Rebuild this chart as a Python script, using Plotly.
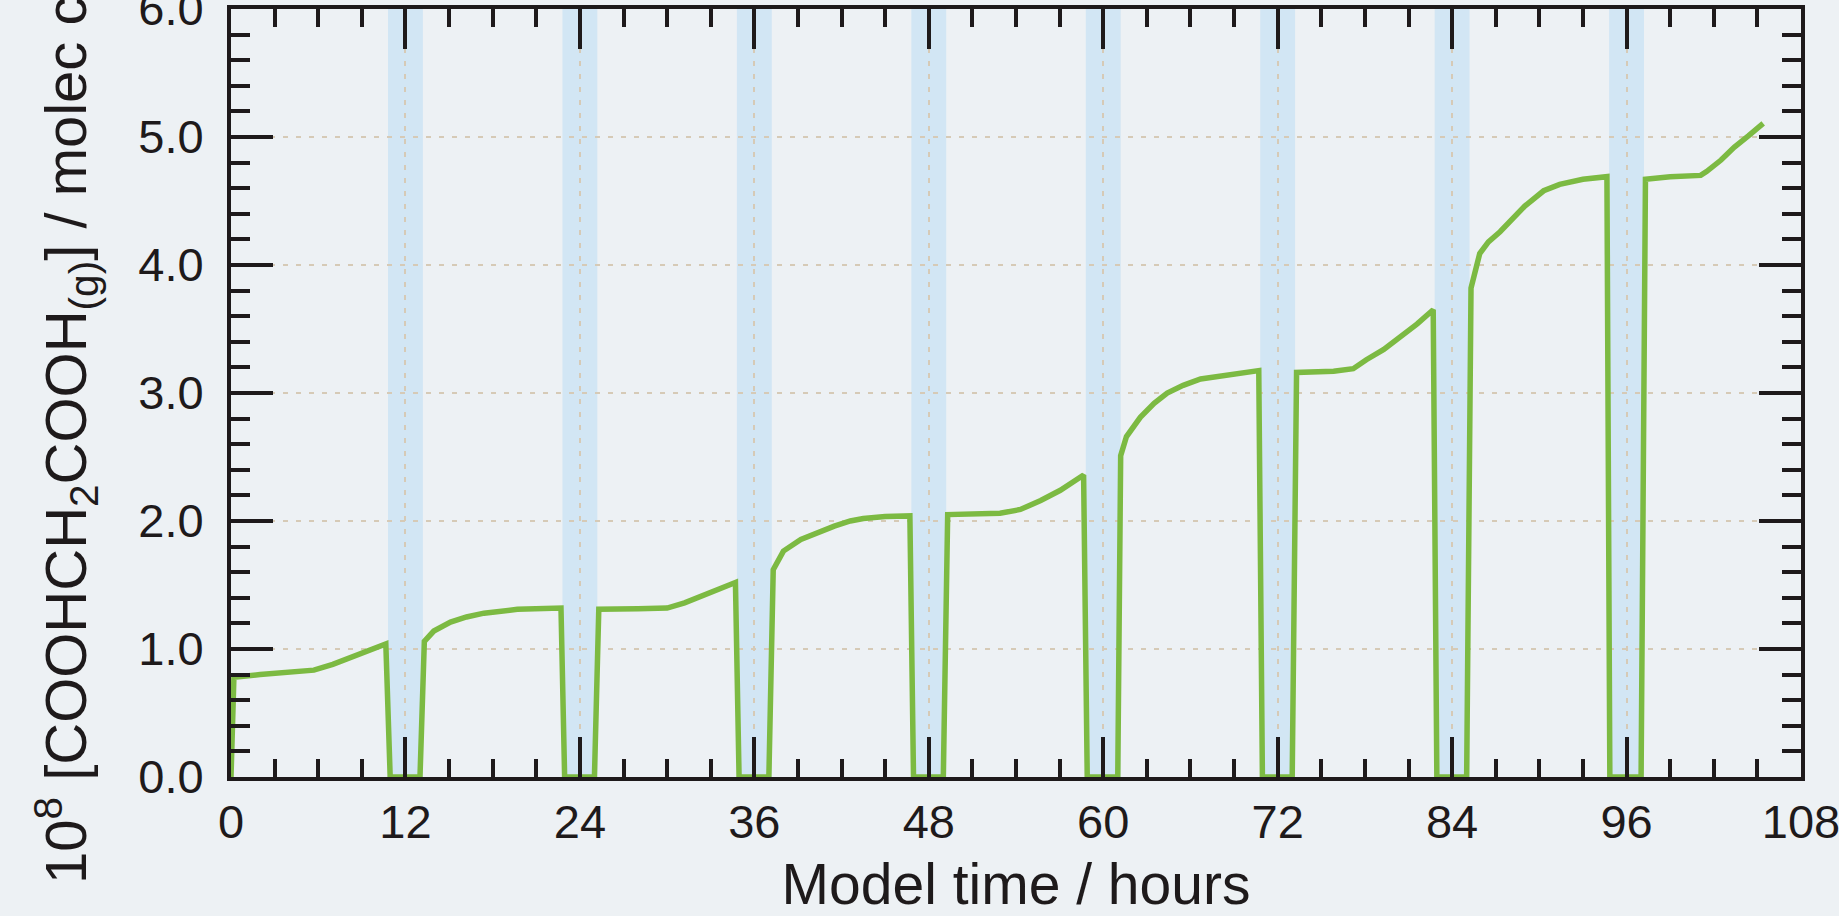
import plotly.graph_objects as go

# ---- data ----
time_h = [0, 0.2, 2, 4, 5.7, 7, 8.2, 9.5, 10.65, 10.95, 13.0,
          13.3, 13.95, 15.1, 16.2, 17.4, 19.7, 22.7, 22.95, 25.0,
          25.3, 28, 30, 31.2, 32.3, 33.5, 34.7, 34.95, 37.0,
          37.3, 38.0, 39.2, 40.3, 41.5, 42.6, 43.5, 45, 46.7, 46.95, 49.0,
          49.3, 51, 52.9, 54.3, 55.7, 57.05, 58.65, 58.9, 61.0,
          61.2, 61.6, 62.55, 63.5, 64.4, 65.5, 66.7, 68.95, 70.7, 70.95, 73.0,
          73.3, 75.85, 77.2, 78.1, 79.3, 80.4, 81.6, 82.7, 82.95, 85.0,
          85.3, 85.9, 86.5, 87.3, 88.2, 89.0, 90.3, 91.4, 93, 94.65, 94.85, 97.0,
          97.3, 99, 101.1, 101.5, 102.5, 103.4, 104.4, 105.4]
conc = [0, 0.78, 0.80, 0.815, 0.835, 0.88, 0.93, 0.99, 1.04, 0, 0,
        1.06, 1.14, 1.21, 1.25, 1.28, 1.31, 1.32, 0, 0,
        1.31, 1.315, 1.32, 1.36, 1.41, 1.46, 1.52, 0, 0,
        1.62, 1.765, 1.855, 1.91, 1.96, 2.0, 2.02, 2.035, 2.04, 0, 0,
        2.05, 2.055, 2.06, 2.09, 2.16, 2.24, 2.36, 0, 0,
        2.51, 2.66, 2.81, 2.92, 3.00, 3.06, 3.11, 3.15, 3.175, 0, 0,
        3.16, 3.17, 3.19, 3.26, 3.34, 3.43, 3.54, 3.65, 0, 0,
        3.82, 4.09, 4.18, 4.26, 4.37, 4.46, 4.58, 4.63, 4.67, 4.69, 0, 0,
        4.67, 4.69, 4.70, 4.73, 4.82, 4.92, 5.01, 5.106]

night_start = [10.8, 22.8, 34.8, 46.8, 58.8, 70.8, 82.8, 94.8]
night_end = [13.2, 25.2, 37.2, 49.2, 61.2, 73.2, 85.2, 97.2]

x_ticks = [0, 12, 24, 36, 48, 60, 72, 84, 96, 108]
y_ticks = [0.0, 1.0, 2.0, 3.0, 4.0, 5.0, 6.0]

BG = "#edf1f4"
BAND = "#d2e6f4"
GREEN = "#7cba42"
GRID = "#d6cab6"
INK = "#1e1a1b"
FONT = "Liberation Sans, Arial, Helvetica, sans-serif"

fig = go.Figure()
fig.add_trace(go.Scatter(x=time_h, y=conc, mode="lines",
                         line=dict(color=GREEN, width=5.5),
                         cliponaxis=False, showlegend=False))

for a, b in zip(night_start, night_end):
    fig.add_shape(type="rect", xref="x", yref="paper", x0=a, x1=b, y0=0, y1=1,
                  fillcolor=BAND, line=dict(width=0), layer="below")

axis_common = dict(
    showline=True, linecolor=INK, linewidth=4, mirror="allticks",
    ticks="inside", tickcolor=INK, tickwidth=3.5,
    showgrid=True, gridcolor=GRID, gridwidth=1.5, griddash="5px,8px",
    zeroline=False, automargin=False, ticklabeloverflow="allow",
    tickfont=dict(family=FONT, size=47, color=INK),
)

fig.update_xaxes(**axis_common, range=[0, 108], tickvals=x_ticks,
                 ticktext=[str(v) for v in x_ticks], ticklen=40,
                 ticklabelstandoff=1,
                 minor=dict(ticks="inside", dtick=3, tick0=0, ticklen=18,
                            tickwidth=3.5, tickcolor=INK, showgrid=False),
                 title=dict(text="Model time / hours",
                            font=dict(family=FONT, size=57, color=INK),
                            standoff=27))
fig.update_yaxes(**axis_common, range=[0, 6], tickvals=y_ticks,
                 ticktext=[f"{v:.1f}" for v in y_ticks], ticklen=42,
                 ticklabelstandoff=14,
                 minor=dict(ticks="inside", dtick=0.2, tick0=0, ticklen=19,
                            tickwidth=3.5, tickcolor=INK, showgrid=False),
                 title=dict(text="10<sup>8</sup> [COOHCH<sub>2</sub>COOH<sub>(g)</sub>] / molec cm<sup>−3</sup>",
                            font=dict(family=FONT, size=58, color=INK),
                            standoff=34))

fig.update_layout(
    width=1839, height=916,
    margin=dict(l=231, r=38, t=9, b=139),
    paper_bgcolor=BG, plot_bgcolor=BG,
    font=dict(family=FONT, color=INK),
    showlegend=False,
)

fig.write_html("out.html", config={"displayModeBar": False},
               post_script="document.body.style.margin='0';document.body.style.background='%s';" % BG)
